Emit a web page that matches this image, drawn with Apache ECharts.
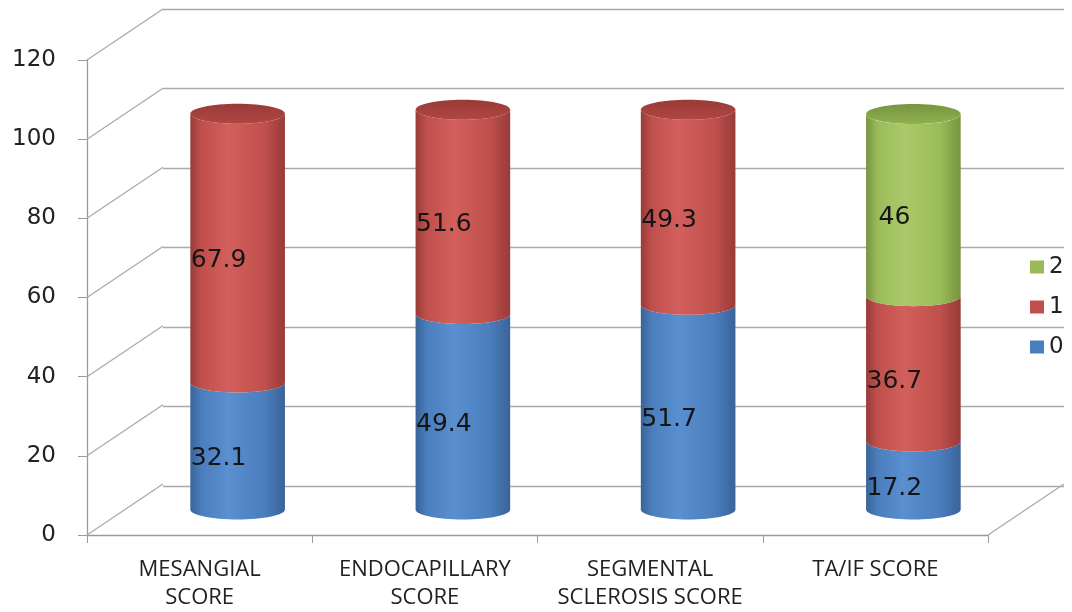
<!DOCTYPE html>
<html>
<head>
<meta charset="utf-8">
<script src="https://cdn.jsdelivr.net/npm/echarts@6/dist/echarts.min.js"></script>
<style>
  html, body { margin: 0; background: #fff; }
  #chart { width: 1072px; height: 612px; }
</style>
</head>
<body>
<div id="chart"></div>
<script>
// data
const categories = ['MESANGIAL\nSCORE', 'ENDOCAPILLARY\nSCORE', 'SEGMENTAL\nSCLEROSIS SCORE', 'TA/IF SCORE'];
const score0 = [32.1, 49.4, 51.7, 17.2];
const score1 = [67.9, 51.6, 49.3, 36.7];
const score2 = [0, 0, 0, 46];
const yTicks = [0, 20, 40, 60, 80, 100, 120];

// depth of the fake 3d box (back wall offset from the front plane)
const DX = 76, DY = -51;
const GRID = { left: 87, top: 60, width: 901, height: 477 };

// dark edge, base, highlight, cap
const shades = {
  '0': ['#3a6399', '#4a7ebd', '#5a8fd0', '#4473ad'],
  '1': ['#983b38', '#c0504d', '#d25f5b', '#b04744'],
  '2': ['#77953f', '#9bbb59', '#abc96a', '#90b050']
};

const seriesList = [['0', score0], ['1', score1], ['2', score2]];

// stack the values by hand so each segment knows where it starts and ends
const totals = categories.map(() => 0);
const stacked = seriesList.map(([name, vals]) => {
  return vals.map((v, i) => {
    const start = totals[i];
    totals[i] += v;
    return [i, start, totals[i], v, 0];
  });
});
// mark the top segment of each column (gets the lid)
categories.forEach((c, i) => {
  for (let s = stacked.length - 1; s >= 0; s--) {
    if (stacked[s][i][3] > 0) { stacked[s][i][4] = 1; break; }
  }
});

function cylinderRender(name) {
  const sh = shades[name];
  const fill = new echarts.graphic.LinearGradient(0, 0, 1, 0, [
    { offset: 0, color: sh[0] },
    { offset: 0.12, color: sh[1] },
    { offset: 0.4, color: sh[2] },
    { offset: 0.78, color: sh[1] },
    { offset: 1, color: sh[0] }
  ]);
  return function (params, api) {
    const i = api.value(0), v0 = api.value(1), v1 = api.value(2), val = api.value(3);
    if (!val) return;
    const band = api.size([1, 0])[0];
    const rx = band * 0.42 / 2, ry = 10;
    const pb = api.coord([i, v0]);
    const pt = api.coord([i, v1]);
    const cx = pb[0] + DX / 2;
    const yb = pb[1] + DY / 2, yt = pt[1] + DY / 2;
    const N = 32, pts = [];
    for (let k = 0; k <= N; k++) {
      const a = Math.PI - Math.PI * k / N;
      pts.push([cx + rx * Math.cos(a), yb + ry * Math.sin(a)]);
    }
    for (let k = 0; k <= N; k++) {
      const a = Math.PI * k / N;
      pts.push([cx + rx * Math.cos(a), yt + ry * Math.sin(a)]);
    }
    const children = [{
      type: 'polygon',
      shape: { points: pts },
      style: { fill: fill }
    }];
    if (api.value(4)) {
      children.push({
        type: 'ellipse',
        shape: { cx: cx, cy: yt, rx: rx, ry: ry },
        style: {
          fill: new echarts.graphic.LinearGradient(0, 0, 0, 1, [
            { offset: 0, color: sh[0] },
            { offset: 1, color: sh[3] }
          ])
        }
      });
    }
    // labels sit a quarter of the way into the box
    const pm = api.coord([i, (v0 + v1) / 2]);
    children.push({
      type: 'text',
      x: pm[0] + DX / 4,
      y: pm[1] + DY / 4,
      style: {
        text: String(val),
        fill: '#151515',
        font: '25px "DejaVu Sans"',
        align: 'center',
        verticalAlign: 'middle'
      }
    });
    return { type: 'group', children: children };
  };
}

function frameRender(params, api) {
  const band = api.size([1, 0])[0];
  const v = api.value(1);
  const p = api.coord([0, v]);
  const x0 = p[0] - band / 2;
  const line = { stroke: '#aaaaaa', lineWidth: 1.3 };
  const children = [{
    type: 'line',
    shape: { x1: x0, y1: p[1], x2: x0 + DX, y2: p[1] + DY },
    style: line
  }];
  if (v === 0) {
    const x1 = x0 + band * categories.length;
    children.push({
      type: 'line',
      shape: { x1: x1, y1: p[1], x2: x1 + DX, y2: p[1] + DY },
      style: line
    });
  }
  return { type: 'group', children: children };
}

const chart = echarts.init(document.getElementById('chart'));

const option = {
  animation: false,
  backgroundColor: '#ffffff',
  color: [shades['0'][1], shades['1'][1], shades['2'][1]],
  legend: {
    data: ['2', '1', '0'],
    orient: 'vertical',
    left: 1025,
    top: 249,
    itemWidth: 14,
    itemHeight: 13,
    itemGap: 14,
    icon: 'rect',
    textStyle: { fontFamily: 'DejaVu Sans', fontSize: 23, color: '#222', lineHeight: 26 }
  },
  grid: [
    { left: GRID.left, top: GRID.top, width: GRID.width, height: GRID.height },
    { left: GRID.left + DX, top: GRID.top + DY, width: GRID.width, height: GRID.height }
  ],
  xAxis: [{
    gridIndex: 0,
    type: 'category',
    data: categories,
    axisLine: { lineStyle: { color: '#9a9a9a', width: 1.3 } },
    axisTick: { show: true, length: 8, lineStyle: { color: '#9a9a9a' } },
    axisLabel: {
      margin: 21,
      fontFamily: 'Open Sans',
      fontSize: 22,
      lineHeight: 28,
      color: '#222',
      interval: 0
    }
  }, {
    gridIndex: 1,
    type: 'category',
    data: categories,
    show: false
  }],
  yAxis: [{
    gridIndex: 0,
    type: 'value',
    min: 0,
    max: 120,
    interval: 20,
    axisLine: { show: true, lineStyle: { color: '#9a9a9a', width: 1.3 } },
    axisTick: { show: true, length: 9, lineStyle: { color: '#9a9a9a' } },
    axisLabel: {
      margin: 31,
      fontFamily: 'DejaVu Sans',
      fontSize: 23,
      color: '#222'
    },
    splitLine: { show: false }
  }, {
    gridIndex: 1,
    type: 'value',
    min: 0,
    max: 120,
    interval: 20,
    axisLine: { show: false },
    axisTick: { show: false },
    axisLabel: { show: false },
    splitLine: { show: true, lineStyle: { color: '#aaaaaa', width: 1.3 } }
  }],
  series: [{
    type: 'custom',
    name: 'frame',
    xAxisIndex: 0,
    yAxisIndex: 0,
    z: 1,
    silent: true,
    renderItem: frameRender,
    data: yTicks.map(v => [0, v])
  }].concat(seriesList.map(([name], s) => ({
    type: 'custom',
    name: name,
    xAxisIndex: 0,
    yAxisIndex: 0,
    z: 3,
    itemStyle: { color: shades[name][1] },
    renderItem: cylinderRender(name),
    data: stacked[s]
  })))
};

chart.setOption(option);
</script>
</body>
</html>
